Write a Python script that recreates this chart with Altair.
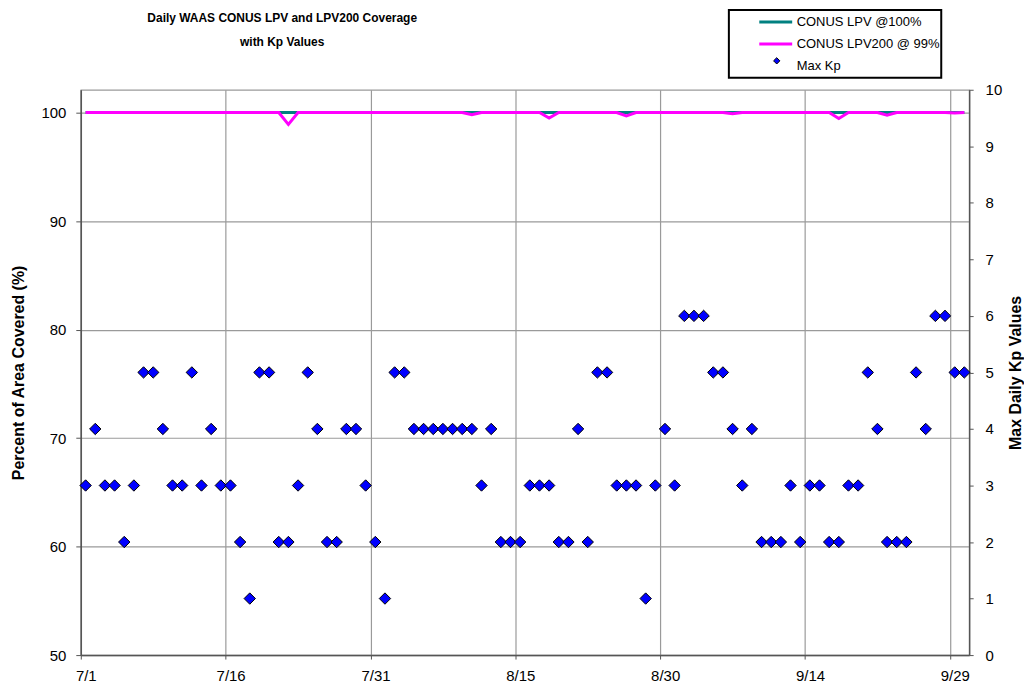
import json
import altair as alt
import pandas as pd

# ---------------- data ----------------
tick_labels = ["7/1", "7/16", "7/31", "8/15", "8/30", "9/14", "9/29"]
series_names = ["CONUS LPV @100%", "CONUS LPV200 @ 99%", "Max Kp"]

# Daily max Kp, 7/1 .. 9/30 (92 days)
max_kp = [
    3, 4, 3, 3, 2, 3, 5, 5, 4, 3,   # 7/1 - 7/10
    3, 5, 3, 4, 3, 3, 2, 1, 5, 5,   # 7/11 - 7/20
    2, 2, 3, 5, 4, 2, 2, 4, 4, 3,   # 7/21 - 7/30
    2, 1, 5, 5, 4, 4, 4, 4, 4, 4,   # 7/31 - 8/9
    4, 3, 4, 2, 2, 2, 3, 3, 3, 2,   # 8/10 - 8/19
    2, 4, 2, 5, 5, 3, 3, 3, 1, 3,   # 8/20 - 8/29
    4, 3, 6, 6, 6, 5, 5, 4, 3, 4,   # 8/30 - 9/8
    2, 2, 2, 3, 2, 3, 3, 2, 2, 3,   # 9/9 - 9/18
    3, 5, 4, 2, 2, 2, 5, 4, 6, 6,   # 9/19 - 9/28
    5, 5,                           # 9/29 - 9/30
]

# CONUS LPV coverage (%) per day
lpv = [
    100, 100, 100, 100, 100, 100, 100, 100, 100, 100,
    100, 100, 100, 100, 100, 100, 100, 100, 100, 100,
    100, 100, 100, 100, 100, 100, 100, 100, 100, 100,
    100, 100, 100, 100, 100, 100, 100, 100, 100, 100,
    100, 100, 100, 100, 100, 100, 100, 100, 100, 100,
    100, 100, 100, 100, 100, 100, 100, 100, 100, 100,
    100, 100, 100, 100, 100, 100, 100, 100, 100, 100,
    100, 100, 100, 100, 100, 100, 100, 100, 100, 100,
    100, 100, 100, 100, 100, 100, 100, 100, 100, 100,
    100, 100,
]

# CONUS LPV200 coverage (%) per day
lpv200 = [
    100, 100, 100, 100, 100, 100, 100, 100, 100, 100,
    100, 100, 100, 100, 100, 100, 100, 100, 100, 100,
    100, 98.9, 100, 100, 100, 100, 100, 100, 100, 100,
    100, 100, 100, 100, 100, 100, 100, 100, 100, 100,
    99.8, 100, 100, 100, 100, 100, 100, 100, 99.5, 100,
    100, 100, 100, 100, 100, 100, 99.7, 100, 100, 100,
    100, 100, 100, 100, 100, 100, 100, 99.9, 100, 100,
    100, 100, 100, 100, 100, 100, 100, 100, 99.45, 100,
    100, 100, 100, 99.75, 100, 100, 100, 100, 100, 100,
    99.95, 100,
]

n_days = len(max_kp)
days = list(range(n_days))

lines_df = pd.DataFrame({
    "day": days + days,
    "pct": lpv + lpv200,
    "series": [series_names[0]] * n_days + [series_names[1]] * n_days,
})
kp_df = pd.DataFrame({"day": days, "kp": max_kp, "series": [series_names[2]] * n_days})

# ---------------- styling ----------------
FONT = "Liberation Sans"
TEAL = "#008080"
MAGENTA = "#ff00ff"
BLUE = "#0000ff"
GRID = "#9a9a9a"
AX = "#555555"

tick_pos = [15 * i for i in range(len(tick_labels))]
label_expr = json.dumps(tick_labels) + "[floor(datum.value / 15)]"

x_enc = alt.X(
    "x:Q",
    scale=alt.Scale(domain=[0, n_days], nice=False, zero=False),
    axis=alt.Axis(
        values=tick_pos, labelExpr=label_expr, title=None, grid=True,
        gridColor=GRID, gridWidth=1.2, tickSize=4, labelPadding=9,
        labelOffset=5, labelFlush=False, labelFontSize=15,
        labelColor="black", domainColor=AX, tickColor=AX, domainWidth=1.5,
    ),
)

y_left = alt.Y(
    "pct:Q",
    scale=alt.Scale(domain=[50, 102.1], nice=False, zero=False),
    axis=alt.Axis(
        orient="left", values=[50, 60, 70, 80, 90, 100],
        title="Percent of Area Covered (%)", titleFontSize=16,
        titleFontWeight="bold", titlePadding=14, labelFontSize=15,
        labelPadding=10, tickSize=5, grid=True, gridColor=GRID,
        gridWidth=1.2, domainColor=AX, tickColor=AX, domainWidth=1.5,
        labelColor="black", titleColor="black",
    ),
)

stroke_enc = alt.Stroke(
    "series:N",
    scale=alt.Scale(domain=series_names, range=[TEAL, MAGENTA, "transparent"]),
    legend=alt.Legend(
        title=None, orient="none", legendX=650, legendY=-80,
        symbolType="stroke", symbolSize=1089, symbolStrokeWidth=3,
        clipHeight=22, rowPadding=0, padding=1, symbolOffset=28,
        labelOffset=3, labelFontSize=13, labelFont=FONT, labelColor="black",
        strokeColor="black", fillColor="white",
    ),
)

calc = {"x": "datum.day + 0.5"}

lpv_line = (
    alt.Chart(lines_df)
    .transform_filter(alt.datum.series == series_names[0])
    .transform_calculate(**calc)
    .mark_line(strokeWidth=3)
    .encode(x=x_enc, y=y_left, stroke=stroke_enc)
)
lpv200_line = (
    alt.Chart(lines_df)
    .transform_filter(alt.datum.series == series_names[1])
    .transform_calculate(**calc)
    .mark_line(strokeWidth=3)
    .encode(x=x_enc, y=y_left, stroke=stroke_enc)
)

points = (
    alt.Chart(kp_df)
    .transform_calculate(**calc)
    .mark_point(shape="diamond", filled=True, size=130, stroke="black",
                strokeWidth=1, opacity=1)
    .encode(
        x=x_enc,
        y=alt.Y(
            "kp:Q",
            scale=alt.Scale(domain=[0, 10], nice=False, zero=True),
            axis=alt.Axis(
                orient="right", values=list(range(0, 11)),
                title="Max Daily Kp Values", titleFontSize=16,
                titleFontWeight="bold", titleAngle=270, titlePadding=22,
                labelFontSize=15, labelPadding=12, tickSize=4, grid=False,
                domainColor=AX, tickColor=AX, domainWidth=1.5,
                labelColor="black", titleColor="black",
            ),
        ),
        fill=alt.Fill(
            "series:N",
            scale=alt.Scale(domain=[series_names[2]], range=[BLUE]),
            legend=alt.Legend(
                title=None, orient="none", legendX=693, legendY=-35,
                symbolType="diamond", symbolSize=40, clipHeight=12,
                padding=0, labelExpr="''", symbolStrokeColor="black",
                symbolStrokeWidth=1,
            ),
        ),
    )
)

chart = (
    alt.layer(alt.layer(lpv_line, lpv200_line), points)
    .resolve_scale(y="independent")
    .properties(
        width=891,
        height=567,
        padding={"left": 2, "top": 0, "right": 0, "bottom": 0},
        title=alt.TitleParams(
            text=["Daily WAAS CONUS LPV and LPV200 Coverage", "with Kp Values"],
            anchor="start", align="center", dx=202, frame="group",
            offset=-40, fontSize=12, fontWeight="bold", font=FONT,
            lineHeight=24, color="black",
        ),
    )
    .configure_view(stroke="#9a9a9a", strokeWidth=1.2)
    .configure_axis(labelFont=FONT, titleFont=FONT)
    .configure_legend(labelFont=FONT, strokeWidth=2)
)

chart.save("out.html", embed_options={"renderer": "svg", "actions": False})
